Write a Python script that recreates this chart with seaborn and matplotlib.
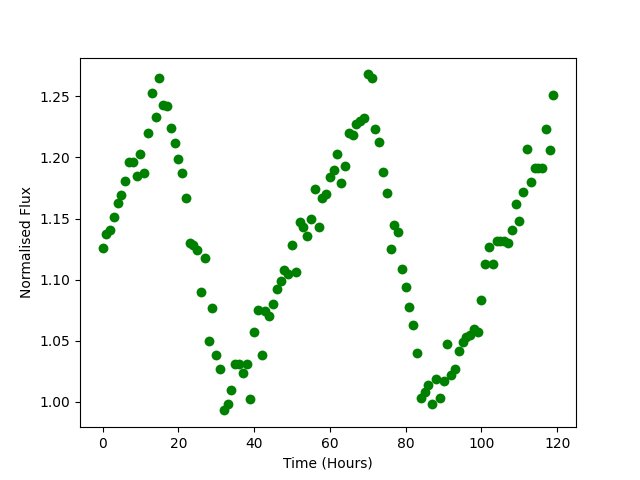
import numpy as np
import pandas as pd
import seaborn as sns
import matplotlib
matplotlib.use('Agg')
import matplotlib.pyplot as plt

# hourly normalised flux readings
hours = list(range(120))
flux = [
    1.126, 1.137, 1.141, 1.151, 1.163, 1.169, 1.181, 1.196, 1.196, 1.185,
    1.203, 1.187, 1.220, 1.253, 1.233, 1.265, 1.243, 1.242, 1.224, 1.212,
    1.199, 1.187, 1.167, 1.130, 1.128, 1.124, 1.090, 1.118, 1.050, 1.077,
    1.038, 1.027, 0.993, 0.998, 1.010, 1.031, 1.031, 1.024, 1.031, 1.002,
    1.057, 1.075, 1.038, 1.074, 1.070, 1.080, 1.092, 1.099, 1.108, 1.105,
    1.128, 1.106, 1.147, 1.143, 1.136, 1.150, 1.174, 1.143, 1.167, 1.170,
    1.184, 1.190, 1.203, 1.179, 1.193, 1.220, 1.218, 1.227, 1.230, 1.232,
    1.268, 1.265, 1.223, 1.213, 1.188, 1.171, 1.125, 1.145, 1.139, 1.109,
    1.094, 1.078, 1.063, 1.040, 1.003, 1.008, 1.014, 0.998, 1.019, 1.003,
    1.017, 1.047, 1.022, 1.027, 1.042, 1.049, 1.053, 1.055, 1.060, 1.057,
    1.083, 1.113, 1.127, 1.113, 1.132, 1.132, 1.132, 1.130, 1.141, 1.162,
    1.148, 1.172, 1.207, 1.180, 1.191, 1.191, 1.191, 1.223, 1.206, 1.251,
]

df = pd.DataFrame({'time': hours, 'flux': flux})

fig, ax = plt.subplots(figsize=(6.4, 4.8), dpi=100)
sns.scatterplot(data=df, x='time', y='flux', color='green', s=50, linewidth=0, ax=ax)
ax.set_xlabel('Time (Hours)')
ax.set_ylabel('Normalised Flux')
fig.savefig('out.png', dpi=100)
